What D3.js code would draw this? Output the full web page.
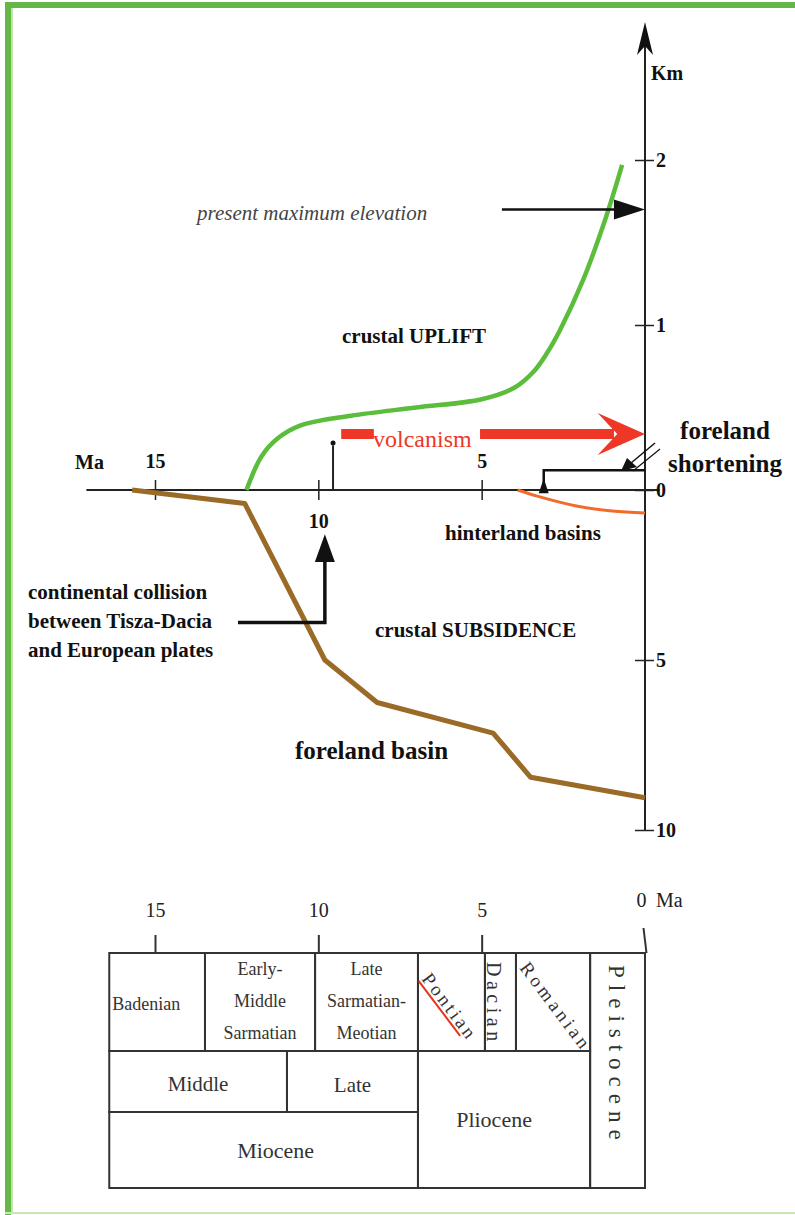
<!DOCTYPE html>
<html>
<head>
<meta charset="utf-8">
<script src="https://cdn.jsdelivr.net/npm/d3@7"></script>
<style>
body{margin:0;background:#fff;}
svg text{font-family:"Liberation Serif","Times New Roman","DejaVu Serif",serif;}
</style>
</head>
<body>
<script>
// ages in Ma, heights in km (basins given as positive depth)
var upliftCurve = [[12.2,0],[11.75,0.2],[11.26,0.31],[10.56,0.39],[9,0.45],[7,0.5],[5,0.55],[4,0.62],[3.4,0.72],[3,0.83],[2.6,0.97],[1.9,1.27],[1.2,1.65],[0.7,1.97]]
var forelandBasin = [[15.7,0],[12.25,0.4],[9.8,5],[8.2,6.25],[4.65,7.15],[3.5,8.45],[0,9.05]]
var hinterlandBasin = [[3.9,0],[3.3,0.18],[2.1,0.47],[1,0.62],[0,0.68]]

var maTicks = [15,10,5]
var kmUpTicks = [1,2]
var kmDownTicks = [0,5,10]
var timeTicks = [15,10,5,0]

var volcanismStart = 9.3, volcanismOnset = 9.55, volcanismKm = 0.34
var shorteningStart = 3.1, shorteningKm = 0.12
var collisionAge = 9.8
var maxElevation = 1.7

var stageNames = ["Badenian","Early-Middle Sarmatian","Late Sarmatian-Meotian","Pontian","Dacian","Romanian"]
var stageBounds = [16.4,13.47,10.1,6.95,4.9,3.95,1.68]
var subepochNames = ["Middle","Late"]
var subepochBounds = [16.4,10.96,6.95]
var epochNames = ["Miocene","Pliocene","Pleistocene"]
var epochBounds = [16.4,6.95,1.68,0]

var serif = "'Liberation Serif','Times New Roman',serif"

var svg = d3.select("body").append("svg")
	.attr("width",795)
	.attr("height",1215)

// green frame
svg.append("rect").attr("x",5).attr("y",2).attr("width",790).attr("height",6).style("fill","#63b847")
svg.append("rect").attr("x",5).attr("y",2).attr("width",6).attr("height",1213).style("fill","#63b847")
svg.append("rect").attr("x",11).attr("y",8).attr("width",2).attr("height",1205).style("fill","#bfe3a8")
svg.append("rect").attr("x",5).attr("y",1212).attr("width",790).attr("height",2).style("fill","#c6e9b2")

var x = d3.scaleLinear().domain([15,0]).range([155,645])
var yUp = d3.scaleLinear().domain([0,2]).range([490,160])
var yDown = d3.scaleLinear().domain([0,10]).range([490,830])

// time axis (Ma)
svg.append("line")
	.attr("x1",x(17.1)).attr("x2",x(-0.45))
	.attr("y1",yUp(0)).attr("y2",yUp(0))
	.style("stroke","#222").style("stroke-width",2)

var xAxis = svg.append("g")
	.attr("transform","translate(0,"+yUp(0)+")")
	.call(d3.axisBottom(x).tickValues(maTicks).tickFormat(d3.format("d")).tickSizeOuter(0).tickSize(10))
xAxis.select(".domain").remove()
xAxis.selectAll(".tick line").attr("y1",-10).attr("y2",10).style("stroke","#222").style("stroke-width",1.5)
xAxis.selectAll(".tick text")
	.attr("dy",null)
	.attr("y",function(d){return d==10 ? 38 : -22})
	.style("font-size","20px").style("font-weight","bold").style("fill","#111")
	.style("font-family",serif)
svg.append("text").attr("x",75).attr("y",469).text("Ma")
	.style("font-size","20px").style("font-weight","bold").style("fill","#111").style("font-family",serif)

// height axis (km)
svg.append("line")
	.attr("x1",x(0)).attr("x2",x(0))
	.attr("y1",yDown(10)).attr("y2",40)
	.style("stroke","#222").style("stroke-width",2)
svg.append("path")
	.attr("d","M"+x(0)+",22 L"+(x(0)+8)+",55 L"+x(0)+",46 L"+(x(0)-8)+",55 Z")
	.style("fill","#111")

function kmAxis(scale, ticks){
	var g = svg.append("g")
		.attr("transform","translate("+x(0)+",0)")
		.call(d3.axisRight(scale).tickValues(ticks).tickFormat(d3.format("d")).tickSize(8).tickPadding(3))
	g.select(".domain").remove()
	g.selectAll(".tick line").attr("x1",-10).attr("x2",9).style("stroke","#222").style("stroke-width",1.5)
	g.selectAll(".tick text")
		.style("font-size","20px").style("font-weight","bold").style("fill","#111")
		.style("font-family",serif)
}
kmAxis(yUp, kmUpTicks)
kmAxis(yDown, kmDownTicks)
svg.append("text").attr("x",651).attr("y",80).text("Km")
	.style("font-size","20px").style("font-weight","bold").style("fill","#111").style("font-family",serif)

// curves
svg.append("path")
	.datum(upliftCurve)
	.attr("d",d3.line().x(function(d){return x(d[0])}).y(function(d){return yUp(d[1])}).curve(d3.curveCatmullRom))
	.style("fill","none").style("stroke","#5cbd3c").style("stroke-width",4.5)

svg.append("path")
	.datum(forelandBasin)
	.attr("d",d3.line().x(function(d){return x(d[0])}).y(function(d){return yDown(d[1])}))
	.style("fill","none").style("stroke","#9a6a26").style("stroke-width",5).style("stroke-linejoin","round")

svg.append("path")
	.datum(hinterlandBasin)
	.attr("d",d3.line().x(function(d){return x(d[0])}).y(function(d){return yDown(d[1])}).curve(d3.curveCatmullRom))
	.style("fill","none").style("stroke","#f26a2c").style("stroke-width",3)

// volcanism
var vy = yUp(volcanismKm)
svg.append("line").attr("x1",x(volcanismOnset)).attr("x2",x(volcanismOnset))
	.attr("y1",yUp(0)).attr("y2",yUp(0.27)).style("stroke","#222").style("stroke-width",2)
svg.append("circle").attr("cx",x(volcanismOnset)).attr("cy",yUp(0.285)).attr("r",2.5).style("fill","#111")
svg.append("line").attr("x1",x(volcanismStart)).attr("x2",x(8.3))
	.attr("y1",vy).attr("y2",vy).style("stroke","#ee3726").style("stroke-width",10)
svg.append("line").attr("x1",x(5.05)).attr("x2",x(0.95))
	.attr("y1",vy).attr("y2",vy).style("stroke","#ee3726").style("stroke-width",10)
svg.append("path")
	.attr("d","M"+x(0)+","+vy+" L"+x(1.45)+","+(vy-21)+" L"+x(0.85)+","+vy+" L"+x(1.45)+","+(vy+21)+" Z")
	.style("fill","#ee3726")
svg.append("text").attr("x",373).attr("y",447).text("volcanism")
	.style("font-size","24px").style("fill","#ee3726").style("font-family",serif)

// foreland shortening marker
svg.append("path")
	.attr("d","M"+x(shorteningStart)+","+yUp(0)+" V"+yUp(shorteningKm)+" H"+x(0))
	.style("fill","none").style("stroke","#111").style("stroke-width",2.5)
svg.append("path")
	.attr("d","M"+x(shorteningStart)+","+yUp(0.07)+" L"+(x(shorteningStart)+5)+","+yUp(-0.02)+" L"+(x(shorteningStart)-5)+","+yUp(-0.02)+" Z")
	.style("fill","#111")
svg.append("line").attr("x1",655).attr("y1",443).attr("x2",625).attr("y2",468).style("stroke","#111").style("stroke-width",1.5)
svg.append("line").attr("x1",660).attr("y1",449).attr("x2",633).attr("y2",471).style("stroke","#111").style("stroke-width",1.2)
svg.append("path").attr("d","M621,471 L627,458 L637,467 Z").style("fill","#111")

// collision arrow
svg.append("path")
	.attr("d","M238,"+yDown(3.9)+" H"+x(collisionAge)+" V"+yDown(2))
	.style("fill","none").style("stroke","#111").style("stroke-width",3.5)
svg.append("path")
	.attr("d","M"+x(collisionAge)+","+yDown(1.3)+" L"+(x(collisionAge)+10)+","+yDown(2.12)+" L"+(x(collisionAge)-10)+","+yDown(2.12)+" Z")
	.style("fill","#111")

// present maximum elevation arrow
svg.append("line").attr("x1",x(4.38)).attr("x2",x(0.9))
	.attr("y1",yUp(maxElevation)).attr("y2",yUp(maxElevation)).style("stroke","#111").style("stroke-width",2.5)
svg.append("path")
	.attr("d","M"+x(0)+","+yUp(maxElevation)+" L"+x(0.95)+","+(yUp(maxElevation)-10)+" L"+x(0.95)+","+(yUp(maxElevation)+10)+" Z")
	.style("fill","#111")

// annotations
var notes = [
	{t:"present maximum elevation", x:197, y:220, s:21, it:true},
	{t:"crustal UPLIFT", x:342, y:343, s:21},
	{t:"foreland", x:725, y:439, s:25, mid:true},
	{t:"shortening", x:725, y:472, s:25, mid:true},
	{t:"hinterland basins", x:445, y:540, s:21},
	{t:"crustal SUBSIDENCE", x:375, y:637, s:21},
	{t:"foreland basin", x:295, y:759, s:25},
	{t:"continental collision", x:28, y:599, s:21},
	{t:"between Tisza-Dacia", x:28, y:628, s:21},
	{t:"and European plates", x:28, y:657, s:21}
]
svg.selectAll(".note")
	.data(notes)
	.enter()
	.append("text")
	.attr("x",function(d){return d.x})
	.attr("y",function(d){return d.y})
	.attr("text-anchor",function(d){return d.mid ? "middle" : "start"})
	.style("font-family",serif)
	.style("font-size",function(d){return d.s+"px"})
	.style("font-weight",function(d){return d.it ? "normal" : "bold"})
	.style("font-style",function(d){return d.it ? "italic" : "normal"})
	.style("fill",function(d){return d.it ? "#444" : "#111"})
	.text(function(d){return d.t})

// stratigraphic table
var rowTop = 953, row2 = 1051, row3 = 1112, rowBottom = 1188

var tAxis = svg.append("g")
	.attr("transform","translate(0,"+rowTop+")")
	.call(d3.axisTop(x).tickValues(timeTicks).tickFormat(d3.format("d")).tickSize(18).tickPadding(18).tickSizeOuter(0))
tAxis.select(".domain").remove()
tAxis.selectAll(".tick line").style("stroke","#333").style("stroke-width",2)
tAxis.selectAll(".tick text")
	.style("font-size","20px").style("fill","#222").style("font-family",serif)
tAxis.selectAll(".tick").filter(function(d){return d==0}).select("line").attr("x1",1).attr("y2",-25).attr("x2",-2).attr("y1",0)
tAxis.selectAll(".tick").filter(function(d){return d==0}).select("text").attr("y",-46).attr("x",-4)
svg.append("text").attr("x",656).attr("y",907).text("Ma").style("font-size","20px").style("fill","#222").style("font-family",serif)

var cells = []
stageNames.forEach(function(n,i){cells.push({name:n, a:stageBounds[i], b:stageBounds[i+1], y0:rowTop, y1:row2})})
subepochNames.forEach(function(n,i){cells.push({name:n, a:subepochBounds[i], b:subepochBounds[i+1], y0:row2, y1:row3})})
cells.push({name:epochNames[0], a:epochBounds[0], b:epochBounds[1], y0:row3, y1:rowBottom})
cells.push({name:epochNames[1], a:epochBounds[1], b:epochBounds[2], y0:row2, y1:rowBottom})
cells.push({name:epochNames[2], a:epochBounds[2], b:epochBounds[3], y0:rowTop, y1:rowBottom})

svg.selectAll(".cell")
	.data(cells)
	.enter()
	.append("rect")
	.attr("x",function(d){return x(d.a)})
	.attr("y",function(d){return d.y0})
	.attr("width",function(d){return x(d.b)-x(d.a)})
	.attr("height",function(d){return d.y1-d.y0})
	.style("fill","none").style("stroke","#333").style("stroke-width",2)

var labelStyle = {
	"Badenian": {lines:["Badenian"], anchor:"start", dx:3, ys:[1010], s:18},
	"Early-Middle Sarmatian": {lines:["Early-","Middle","Sarmatian"], ys:[975,1007,1039], s:18},
	"Late Sarmatian-Meotian": {lines:["Late","Sarmatian-","Meotian"], ys:[975,1007,1039], s:18},
	"Middle": {lines:["Middle"], ys:[1091], s:21},
	"Late": {lines:["Late"], ys:[1092], s:21},
	"Miocene": {lines:["Miocene"], ys:[1158], dx:12, s:22},
	"Pliocene": {lines:["Pliocene"], ys:[1127], dx:-10, s:22}
}
cells.forEach(function(c){
	var st = labelStyle[c.name]
	if (!st) return
	st.lines.forEach(function(l,i){
		svg.append("text")
			.attr("x", st.anchor=="start" ? x(c.a)+st.dx : (x(c.a)+x(c.b))/2+(st.dx||0))
			.attr("y", st.ys[i])
			.attr("text-anchor", st.anchor || "middle")
			.style("font-family",serif)
			.style("font-size",st.s+"px").style("fill","#333")
			.text(l)
	})
})

// rotated stage names
var rotated = [
	{name:"Pontian", x:421, y:979, r:53, s:19, ls:3},
	{name:"Dacian", x:487, y:962, r:90, s:20, ls:4.5},
	{name:"Romanian", x:519, y:968, r:53, s:19, ls:3.5},
	{name:"Pleistocene", x:609, y:965, r:90, s:23, ls:7}
]
rotated.forEach(function(d){
	var g = svg.append("g").attr("transform","translate("+d.x+","+d.y+") rotate("+d.r+")")
	if (d.name=="Pontian") {
		g.append("line").attr("x1",0).attr("y1",3).attr("x2",69).attr("y2",3).style("stroke","#e8321e").style("stroke-width",2)
	}
	g.append("text")
		.style("font-family",serif)
		.style("font-size",d.s+"px").style("letter-spacing",d.ls+"px").style("fill","#333")
		.text(d.name)
})
</script>
</body>
</html>
